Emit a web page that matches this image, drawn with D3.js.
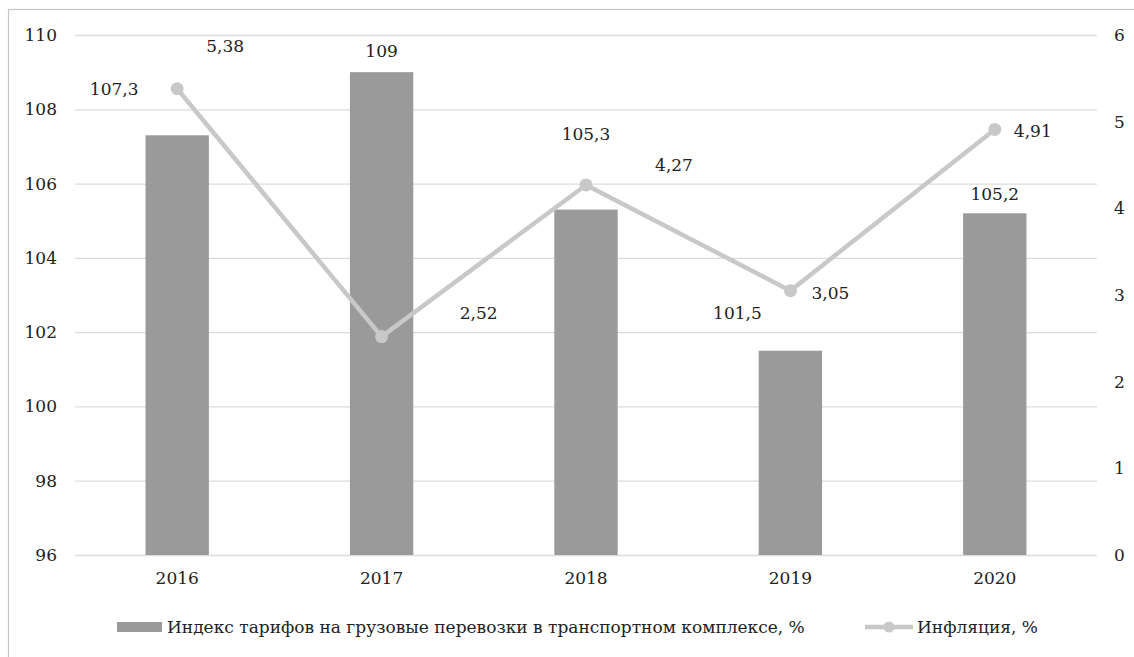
<!DOCTYPE html>
<html>
<head>
<meta charset="utf-8">
<script src="https://cdn.jsdelivr.net/npm/d3@7"></script>
<style>
  body { margin: 0; background: #fff; }
  svg text { fill: #222; }
</style>
</head>
<body>
<svg id="chart" width="1134" height="657"></svg>
<script>
// chart data
const years = ["2016", "2017", "2018", "2019", "2020"];
const tariffIndex = [107.3, 109, 105.3, 101.5, 105.2];
const inflation = [5.38, 2.52, 4.27, 3.05, 4.91];
const leftTicks = [96, 98, 100, 102, 104, 106, 108, 110];
const rightTicks = [0, 1, 2, 3, 4, 5, 6];
const legendLabels = ["Индекс тарифов на грузовые перевозки в транспортном комплексе, %", "Инфляция, %"];

// label nudges (px), the labels were moved by hand in the original
const barLabelShift = [[-63, -46], [0, -21], [0, -76], [-53, -38], [0, -19]];
const lineLabelShift = [[48, -43], [97, -24], [88, -20], [40, 2], [38, 2]];

const serif = "DejaVu Serif";
const fs = 17;

const dims = { width: 1134, height: 657, margin: { top: 35, right: 37, bottom: 102, left: 75 } };
dims.boundedWidth = dims.width - dims.margin.left - dims.margin.right;
dims.boundedHeight = dims.height - dims.margin.top - dims.margin.bottom;

const svg = d3.select("#chart");

// outer frame (only left and top edges are visible in the picture)
svg.append("rect")
  .attr("x", 8.5).attr("y", 9.5)
  .attr("width", 1140).attr("height", 660)
  .attr("fill", "none").attr("stroke", "#c6c6c6").attr("stroke-width", 1.2);

const g = svg.append("g")
  .attr("transform", `translate(${dims.margin.left},${dims.margin.top})`);

const x = d3.scaleBand().domain(years).range([0, dims.boundedWidth]).paddingInner(0.69).paddingOuter(0.345);
const xc = d3.scaleBand().domain(years).range([0, dims.boundedWidth]);
const yL = d3.scaleLinear().domain([96, 110]).range([dims.boundedHeight, 0]);
const yR = d3.scaleLinear().domain([0, 6]).range([dims.boundedHeight, 0]);

// gridlines from the left axis
g.append("g")
  .call(d3.axisLeft(yL).tickValues(leftTicks).tickSize(-dims.boundedWidth).tickFormat(""))
  .call(a => a.select(".domain").remove())
  .selectAll("line").attr("stroke", "#dcdcdc").attr("stroke-width", 1.3);

// left axis labels
g.append("g")
  .call(d3.axisLeft(yL).tickValues(leftTicks).tickSize(0).tickPadding(18))
  .call(a => a.select(".domain").remove())
  .attr("font-family", serif)
  .selectAll("text").attr("font-size", fs).attr("fill", "#222");

// right axis labels
g.append("g")
  .attr("transform", `translate(${dims.boundedWidth},0)`)
  .call(d3.axisRight(yR).tickValues(rightTicks).tickFormat(d3.format("d")).tickSize(0).tickPadding(17))
  .call(a => a.select(".domain").remove())
  .attr("font-family", serif)
  .selectAll("text").attr("font-size", fs).attr("fill", "#222");

// x axis
g.append("g")
  .attr("transform", `translate(0,${dims.boundedHeight})`)
  .call(d3.axisBottom(xc).tickSize(0).tickPadding(17))
  .call(a => a.select(".domain").remove())
  .attr("font-family", serif)
  .selectAll("text").attr("font-size", fs).attr("fill", "#222");

// bars
g.selectAll("rect.bar")
  .data(years)
  .enter()
  .append("rect")
  .attr("class", "bar")
  .attr("x", d => x(d))
  .attr("y", (d, i) => yL(tariffIndex[i]))
  .attr("width", x.bandwidth())
  .attr("height", (d, i) => yL(96) - yL(tariffIndex[i]))
  .attr("fill", "#9a9a9a");

// inflation line
const cx = d => xc(d) + xc.bandwidth() / 2;
g.append("path")
  .datum(years)
  .attr("fill", "none")
  .attr("stroke", "#c8c8c8")
  .attr("stroke-width", 4.5)
  .attr("stroke-linejoin", "round")
  .attr("d", d3.line().x(d => cx(d)).y((d, i) => yR(inflation[i])));

g.selectAll("circle.pt")
  .data(years)
  .enter()
  .append("circle")
  .attr("class", "pt")
  .attr("cx", d => cx(d))
  .attr("cy", (d, i) => yR(inflation[i]))
  .attr("r", 6.5)
  .attr("fill", "#c8c8c8");

const fmt = v => String(v).replace(".", ",");

// bar labels
g.selectAll("text.blab")
  .data(years)
  .enter()
  .append("text")
  .attr("class", "blab")
  .attr("x", (d, i) => cx(d) + barLabelShift[i][0])
  .attr("y", (d, i) => yL(tariffIndex[i]) + barLabelShift[i][1])
  .attr("text-anchor", "middle")
  .attr("dominant-baseline", "central")
  .attr("font-family", serif)
  .attr("font-size", fs)
  .text((d, i) => fmt(tariffIndex[i]));

// line labels
g.selectAll("text.llab")
  .data(years)
  .enter()
  .append("text")
  .attr("class", "llab")
  .attr("x", (d, i) => cx(d) + lineLabelShift[i][0])
  .attr("y", (d, i) => yR(inflation[i]) + lineLabelShift[i][1])
  .attr("text-anchor", "middle")
  .attr("dominant-baseline", "central")
  .attr("font-family", serif)
  .attr("font-size", fs)
  .text((d, i) => fmt(inflation[i]));

// legend
const legend = svg.append("g").attr("transform", "translate(0,627)").attr("font-family", serif);
legend.append("rect")
  .attr("x", 117).attr("y", -5).attr("width", 45).attr("height", 10)
  .attr("fill", "#9a9a9a");
legend.append("text")
  .attr("x", 167).attr("y", 0)
  .attr("dominant-baseline", "central")
  .attr("font-size", fs)
  .text(legendLabels[0]);
legend.append("line")
  .attr("x1", 865).attr("x2", 913).attr("y1", 0).attr("y2", 0)
  .attr("stroke", "#c8c8c8").attr("stroke-width", 4.5);
legend.append("circle")
  .attr("cx", 889).attr("cy", 0).attr("r", 5.5).attr("fill", "#c8c8c8");
legend.append("text")
  .attr("x", 917).attr("y", 0)
  .attr("dominant-baseline", "central")
  .attr("font-size", fs)
  .text(legendLabels[1]);
</script>
</body>
</html>
